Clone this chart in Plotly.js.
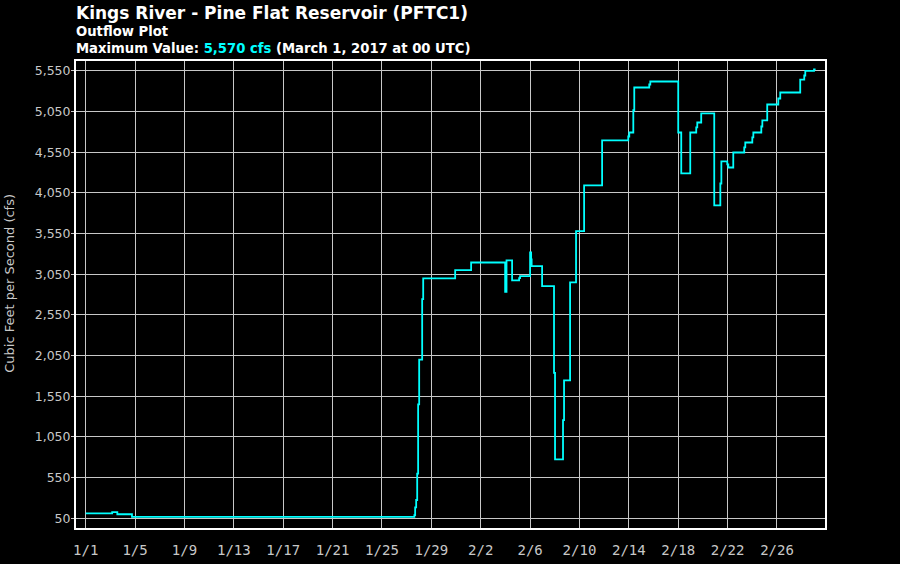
<!DOCTYPE html>
<html>
<head>
<meta charset="utf-8">
<script src="https://cdn.plot.ly/plotly-3.0.1.min.js"></script>
<style>
  html, body { margin: 0; padding: 0; background: #000; }
  #chart { width: 900px; height: 564px; }
</style>
</head>
<body>
<div id="chart"></div>
<script>
const times = [
  '2017-01-01 00:00', '2017-01-03 03:30', '2017-01-03 13:30', '2017-01-04 18:00',
  '2017-01-27 15:00', '2017-01-27 16:30', '2017-01-27 18:30', '2017-01-27 20:30',
  '2017-01-27 22:20', '2017-01-28 00:20', '2017-01-28 06:10', '2017-01-28 08:10',
  '2017-01-30 22:20', '2017-02-01 05:20', '2017-02-03 23:30', '2017-02-04 02:10',
  '2017-02-04 13:00', '2017-02-05 02:40', '2017-02-05 04:30', '2017-02-06 00:00',
  '2017-02-06 02:00', '2017-02-06 03:00', '2017-02-06 23:20', '2017-02-07 22:30',
  '2017-02-08 00:30', '2017-02-08 16:00', '2017-02-08 18:00', '2017-02-09 05:45',
  '2017-02-09 17:20', '2017-02-10 09:00', '2017-02-11 20:00', '2017-02-13 22:50',
  '2017-02-14 00:50', '2017-02-14 08:40', '2017-02-14 10:30', '2017-02-15 15:40',
  '2017-02-15 17:40', '2017-02-18 00:00', '2017-02-18 05:50', '2017-02-18 23:20',
  '2017-02-19 11:00', '2017-02-19 13:00', '2017-02-19 20:40', '2017-02-20 22:00',
  '2017-02-21 09:50', '2017-02-21 11:50', '2017-02-21 23:20', '2017-02-22 01:20',
  '2017-02-22 11:00', '2017-02-23 08:20', '2017-02-23 10:20', '2017-02-24 00:00',
  '2017-02-24 02:00', '2017-02-24 17:30', '2017-02-24 19:30', '2017-02-25 05:00',
  '2017-02-26 02:30', '2017-02-26 06:20', '2017-02-27 21:10', '2017-02-28 05:00',
  '2017-02-28 07:00', '2017-03-01 00:00', '2017-03-01 03:00'
];
const outflow = [
  110, 125, 100, 68,
  90, 185, 275, 600,
  1450, 2000, 2745, 3000,
  3100, 3195, 2835, 3220,
  2975, 3003, 3027, 3320,
  3233, 3150, 2905, 1839,
  775, 1258, 1746, 2950,
  3580, 4142, 4695, 4744,
  4793, 5068, 5346, 5383,
  5420, 4793, 4290, 4793,
  4855, 4916, 5027, 3896,
  4166, 4437, 4400, 4363,
  4547, 4609, 4670, 4732,
  4793, 4867, 4941, 5137,
  5211, 5285, 5444, 5494,
  5550, 5570, 5570
];

const titleText = 'Kings River - Pine Flat Reservoir (PFTC1)';
const subtitleText = 'Outflow Plot';
const maxLabel = 'Maximum Value: ';
const maxValueText = '5,570 cfs';
const maxWhenText = ' (March 1, 2017 at 00 UTC)';
const yTitleText = 'Cubic Feet per Second (cfs)';

const xRange = ['2016-12-31 05:10', '2017-03-01 21:20'];
const yRange = [-69, 5672];

const trace = {
  x: times,
  y: outflow,
  type: 'scatter',
  mode: 'lines',
  line: { color: '#00ffff', width: 1.8, shape: 'hv' },
  hoverinfo: 'skip'
};

const layout = {
  width: 900,
  height: 564,
  paper_bgcolor: '#000000',
  plot_bgcolor: '#000000',
  margin: { l: 76, r: 75, t: 61, b: 36, pad: 0 },
  showlegend: false,
  font: { family: 'DejaVu Sans, Verdana, sans-serif', color: '#ffffff' },
  xaxis: {
    type: 'date',
    range: xRange,
    tick0: '2017-01-01',
    dtick: 4 * 24 * 3600 * 1000,
    tickformat: '%-m/%-d',
    showgrid: true,
    gridcolor: '#c8c8c8',
    gridwidth: 1,
    zeroline: false,
    showline: true,
    linecolor: '#ffffff',
    linewidth: 2,
    mirror: true,
    ticks: '',
    ticklabelstandoff: 8,
    tickfont: { family: 'DejaVu Sans Mono, monospace', size: 14, color: '#c8c8c8' }
  },
  yaxis: {
    range: yRange,
    tick0: 50,
    dtick: 500,
    tickformat: ',d',
    showgrid: true,
    gridcolor: '#c8c8c8',
    gridwidth: 1,
    zeroline: false,
    showline: true,
    linecolor: '#ffffff',
    linewidth: 2,
    mirror: true,
    ticks: 'outside',
    ticklen: 3,
    tickcolor: '#c8c8c8',
    ticklabelstandoff: -2,
    tickfont: { family: 'DejaVu Sans, Verdana, sans-serif', size: 12.5, color: '#c8c8c8' }
  },
  annotations: [
    {
      text: '<b>' + titleText + '</b>', xref: 'paper', yref: 'paper', x: 0, y: 1,
      xanchor: 'left', yanchor: 'middle', xshift: -2, yshift: 48,
      showarrow: false, font: { size: 17, color: '#ffffff' }
    },
    {
      text: '<b>' + subtitleText + '<br>' + maxLabel +
            '<span style="color:#00ffff">' + maxValueText + '</span>' + maxWhenText + '</b>',
      xref: 'paper', yref: 'paper', x: 0, y: 1, align: 'left',
      xanchor: 'left', yanchor: 'middle', xshift: -2, yshift: 21,
      showarrow: false, font: { size: 13.2, color: '#ffffff' }
    },
    {
      text: yTitleText, xref: 'paper', yref: 'paper', x: 0, y: 0.523,
      xanchor: 'center', yanchor: 'middle', xshift: -66, textangle: -90,
      showarrow: false, font: { size: 13, color: '#c8c8c8' }
    }
  ]
};

Plotly.newPlot('chart', [trace], layout, { staticPlot: true, displayModeBar: false });
</script>
</body>
</html>
